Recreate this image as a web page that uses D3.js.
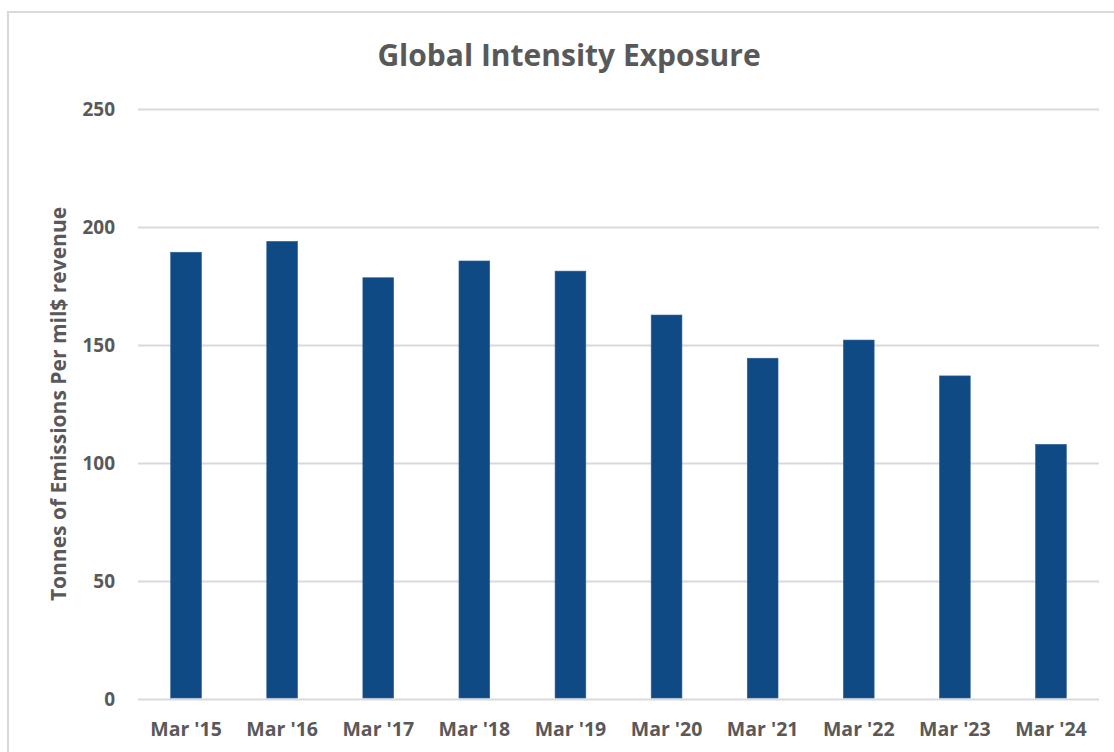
<!DOCTYPE html>
<html>
<head>
<meta charset="utf-8">
<script src="https://cdn.jsdelivr.net/npm/d3@7"></script>
<style>
  html, body { margin: 0; padding: 0; background: #fff; }
  svg { display: block; font-family: "Open Sans", sans-serif; }
  .tick text { fill: #595959; font-weight: bold; }
</style>
</head>
<body>
<div id="chart"></div>
<script>
// data
const categories = ["Mar '15", "Mar '16", "Mar '17", "Mar '18", "Mar '19", "Mar '20", "Mar '21", "Mar '22", "Mar '23", "Mar '24"];
const intensity = [189.3, 193.9, 178.5, 185.6, 181.3, 162.7, 144.4, 152.1, 136.9, 107.9];
const y_ticks = [0, 50, 100, 150, 200, 250];

const title = "Global Intensity Exposure";
const ytitle = "Tonnes of Emissions Per mil$ revenue";

// settings
const ttl_width = 1114, ttl_height = 752;
const margin = {top: 109, right: 15, bottom: 53, left: 138};
const width = ttl_width - margin.left - margin.right;
const height = ttl_height - margin.top - margin.bottom;

const text_color = "#595959";
const grid_color = "#d9d9d9";
const bar_color = "#0f4a84";
const font = "'Open Sans', sans-serif";

const svg = d3.select("#chart")
  .append("svg")
  .attr("width", ttl_width)
  .attr("height", ttl_height);

svg.append("rect")
  .attr("width", "100%")
  .attr("height", "100%")
  .attr("fill", "white");

// outer chart frame (runs off the right and bottom edges)
svg.append("rect")
  .attr("x", 8)
  .attr("y", 12)
  .attr("width", 1300)
  .attr("height", 900)
  .attr("fill", "none")
  .attr("stroke", grid_color)
  .attr("stroke-width", 2);

svg.append("text")
  .attr("x", 569)
  .attr("y", 66)
  .attr("text-anchor", "middle")
  .attr("font-size", 30)
  .attr("font-weight", "bold")
  .attr("fill", text_color)
  .text(title);

svg.append("text")
  .attr("transform", "translate(66," + (margin.top + height / 2) + ") rotate(-90)")
  .attr("text-anchor", "middle")
  .attr("font-size", 21)
  .attr("font-weight", "bold")
  .attr("fill", text_color)
  .text(ytitle);

const g = svg.append("g")
  .attr("transform", "translate(" + margin.left + "," + margin.top + ")");

const x = d3.scaleBand()
  .domain(categories)
  .range([0, width])
  .paddingInner(0.68)
  .paddingOuter(0.34);

const y = d3.scaleLinear()
  .domain([0, 250])
  .range([height, 0]);

// gridlines + y labels
const yaxis = g.append("g")
  .call(d3.axisLeft(y).tickValues(y_ticks).tickSize(-width).tickPadding(23));
yaxis.select(".domain").remove();
yaxis.selectAll(".tick line").attr("stroke", grid_color).attr("stroke-width", 2);
yaxis.selectAll(".tick text").attr("font-size", 19).attr("font-family", font);

// bars
g.append("g")
  .selectAll("rect")
  .data(intensity)
  .enter()
  .append("rect")
  .attr("x", (d, i) => x(categories[i]))
  .attr("y", d => y(d))
  .attr("width", x.bandwidth())
  .attr("height", d => y(0) - y(d) - 1)
  .attr("fill", bar_color)
  .attr("stroke", "#2d6099")
  .attr("stroke-width", 0.6);

// x labels
const xaxis = g.append("g")
  .attr("transform", "translate(0," + height + ")")
  .call(d3.axisBottom(x).tickSize(0).tickPadding(23));
xaxis.select(".domain").remove();
xaxis.selectAll(".tick text").attr("font-size", 19.5).attr("font-family", font);
</script>
</body>
</html>
